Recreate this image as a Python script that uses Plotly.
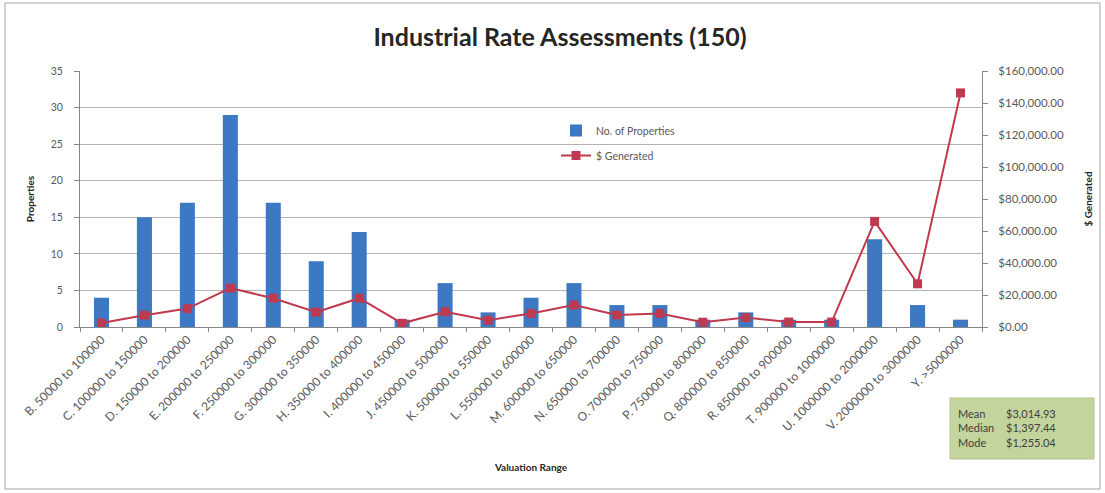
import plotly.graph_objects as go

categories = [
    "B. 50000 to 100000", "C. 100000 to 150000", "D. 150000 to 200000",
    "E. 200000 to 250000", "F. 250000 to 300000", "G. 300000 to 350000",
    "H. 350000 to 400000", "I. 400000 to 450000", "J. 450000 to 500000",
    "K. 500000 to 550000", "L. 550000 to 600000", "M. 600000 to 650000",
    "N. 650000 to 700000", "O. 700000 to 750000", "P. 750000 to 800000",
    "Q. 800000 to 850000", "R. 850000 to 900000", "T. 900000 to 1000000",
    "U. 1000000 to 2000000", "V. 2000000 to 3000000", "Y. >5000000",
]
num_properties = [4, 15, 17, 29, 17, 9, 13, 1, 6, 2, 4, 6, 3, 3, 1, 2, 1, 1, 12, 3, 1]
dollars_generated = [2500, 7400, 11500, 24300, 18000, 9300, 18000, 2300, 9500, 4300,
                     8500, 13700, 7500, 8500, 3000, 5900, 3100, 3100, 66000, 27000, 146300]
stat_labels = ["Mean", "Median", "Mode"]
stat_values = ["$3,014.93", "$1,397.44", "$1,255.04"]

FONT = "Lato"
GRAY = "#595959"

fig = go.Figure()
fig.add_trace(go.Bar(
    x=categories, y=num_properties, name="No. of Properties",
    marker=dict(color="#3d78c2", line=dict(width=0)),
    legendgroup="a",
))
fig.add_trace(go.Scatter(
    x=categories, y=dollars_generated, name="$ Generated", yaxis="y2",
    mode="lines+markers",
    line=dict(color="#c0394d", width=2),
    marker=dict(symbol="square", size=9, color="#be3a50"),
    legendgroup="b",
))

# plot area in pixels: x 80..982, y 71..327
def px_x(p):
    return (p - 80) / 902.0

def px_y(p):
    return (327 - p) / 256.0

shapes = [
    dict(type="rect", xref="paper", yref="paper",
         x0=px_x(5), x1=px_x(1100), y0=px_y(489), y1=px_y(3),
         line=dict(color="#a6a6a6", width=1), fillcolor="rgba(0,0,0,0)", layer="below"),
    dict(type="rect", xref="paper", yref="paper",
         x0=px_x(950), x1=px_x(1094), y0=px_y(459), y1=px_y(398),
         line=dict(color="#b5c78a", width=1), fillcolor="#c3d49c", layer="above"),
]

annotations = [
    dict(xref="paper", yref="paper", x=px_x(956), y=px_y(428), xanchor="left", yanchor="middle",
         text="<br>".join(stat_labels), showarrow=False, align="left",
         font=dict(family=FONT, size=11, color="#404040")),
    dict(xref="paper", yref="paper", x=px_x(1004), y=px_y(428), xanchor="left", yanchor="middle",
         text="<br>".join(stat_values), showarrow=False, align="left",
         font=dict(family=FONT, size=11, color="#404040")),
]

fig.update_layout(
    width=1105, height=493,
    margin=dict(l=80, r=123, t=71, b=166),
    paper_bgcolor="white", plot_bgcolor="white",
    font=dict(family=FONT, size=10, color=GRAY),
    title=dict(text="<b>Industrial Rate Assessments (150)</b>", x=560 / 1105, xanchor="center",
               y=1 - 37 / 493, yanchor="middle",
               font=dict(family=FONT, size=25, color="#262626")),
    bargap=0.65,
    showlegend=True,
    legend=dict(x=px_x(556), y=px_y(116), xanchor="left", yanchor="top",
                bgcolor="rgba(0,0,0,0)", traceorder="grouped", tracegroupgap=6,
                font=dict(family=FONT, size=10.5, color=GRAY), itemwidth=30),
    xaxis=dict(
        range=[-0.5, len(categories) - 0.5],
        tickangle=-45, tickfont=dict(family=FONT, size=12, color=GRAY),
        showline=True, linecolor="#868686", linewidth=1,
        ticks="outside", ticklen=4, tickcolor="#868686", tickson="boundaries",
        title=dict(text="<b>Valuation Range</b>", standoff=30,
                   font=dict(family=FONT, size=10, color="#262626")),
        showgrid=False,
    ),
    yaxis=dict(
        range=[0, 35], dtick=5, showgrid=True, gridcolor="#b3b3b3", gridwidth=1,
        showline=True, linecolor="#868686", ticks="outside", ticklen=5, tickcolor="#868686",
        tickfont=dict(family=FONT, size=10.5, color=GRAY), zeroline=False,
        ticklabelstandoff=9,
        title=dict(text="<b>Properties</b>", standoff=14,
                   font=dict(family=FONT, size=10, color="#262626")),
    ),
    yaxis2=dict(
        range=[0, 160000], dtick=20000, overlaying="y", side="right",
        showgrid=False, showline=True, linecolor="#868686",
        ticks="outside", ticklen=5, tickcolor="#868686",
        tickformat="$,.2f", zeroline=False,
        ticklabelstandoff=8,
        tickfont=dict(family=FONT, size=11.5, color=GRAY),
        title=dict(text="<b>$ Generated</b>", standoff=22,
                   font=dict(family=FONT, size=10, color="#262626")),
    ),
    shapes=shapes,
    annotations=annotations,
)

fig.write_html("out.html", config={"displayModeBar": False},
               post_script="document.body.style.margin='0px';")
